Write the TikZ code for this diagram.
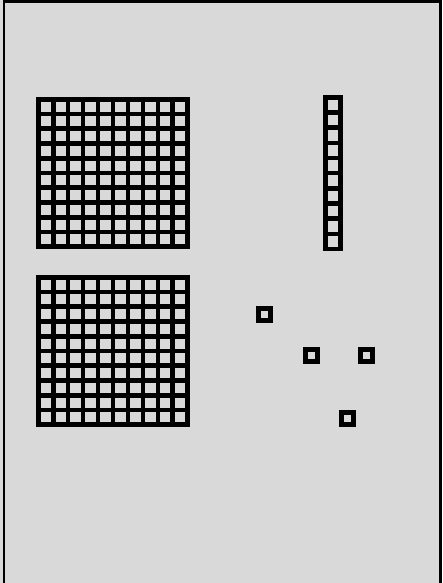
\documentclass[tikz,border=0pt]{standalone}
\usepackage{tikz}
\definecolor{bg}{RGB}{217,217,217}
\tikzset{
  gridline/.style={line width=4.6pt, black, line cap=rect},
  unitsq/.style={line width=5pt, black},
}
\newcommand{\hundredflat}[4]{% x0 y0 x1 y1
  \foreach \i in {0,...,10} {
    \pgfmathsetmacro{\xx}{#1+\i*(#3-#1)/10}
    \pgfmathsetmacro{\yy}{#2+\i*(#4-#2)/10}
    \draw[gridline] (\xx,#2) -- (\xx,#4);
    \draw[gridline] (#1,\yy) -- (#3,\yy);
  }
}
\begin{document}
\begin{tikzpicture}[x=1pt,y=-1pt]
\useasboundingbox (0,0) rectangle (442,583);
\fill[bg] (0,0) rectangle (442,583);
% frame (top, left, right)
\draw[line width=2.6pt] (4,583) -- (4,1.3) -- (440.7,1.3) -- (440.7,583);
% two hundred flats
\hundredflat{38.3}{99.3}{187.7}{246.7}
\hundredflat{38.3}{277.3}{187.7}{424.7}
% ten rod
\draw[gridline] (325.3,97.3) rectangle (340.7,249);
\foreach \i in {1,...,9} {
  \pgfmathsetmacro{\yy}{97.3+\i*15.17}
  \draw[gridline] (325.3,\yy) -- (340.7,\yy);
}
% unit cubes
\draw[unitsq] (258,308) rectangle (270,320);
\draw[unitsq] (305,349.5) rectangle (317,361.5);
\draw[unitsq] (360,349.5) rectangle (372,361.5);
\draw[unitsq] (341,412) rectangle (353,424);
\end{tikzpicture}
\end{document}
